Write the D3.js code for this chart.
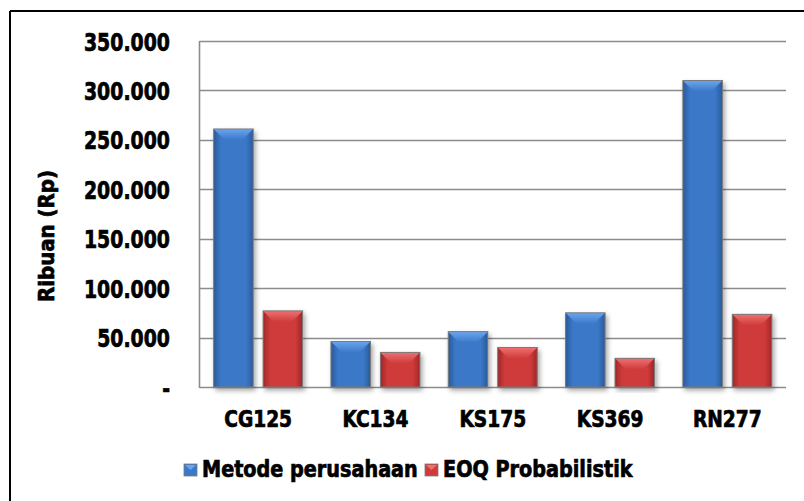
<!DOCTYPE html>
<html>
<head>
<meta charset="utf-8">
<script src="https://cdn.jsdelivr.net/npm/d3@7/dist/d3.min.js"></script>
<style>
  html, body { margin: 0; padding: 0; background: #fff; }
  svg { display: block; }
  text { font-family: "DejaVu Sans Condensed", "DejaVu Sans", sans-serif; font-stretch: condensed; font-weight: bold; fill: #000; stroke: #000; stroke-width: 0.7px; }
</style>
</head>
<body>
<svg id="chart" width="804" height="501"></svg>
<script>
// Inventory cost per product (thousand Rupiah)
const categories = ["CG125", "KC134", "KS175", "KS369", "RN277"];
const seriesNames = ["Metode perusahaan", "EOQ Probabilistik"];
const metodePerusahaan = [261000, 46000, 56000, 75000, 310000];
const eoqProbabilistik = [77000, 35000, 40000, 29000, 73500];
const yTicks = [0, 50000, 100000, 150000, 200000, 250000, 300000, 350000];
const yTickLabels = ["-", "50.000", "100.000", "150.000", "200.000", "250.000", "300.000", "350.000"];
const yTitle = "Ribuan (Rp)";

const seriesValues = [metodePerusahaan, eoqProbabilistik];
const palette = [
  { base: "#3b78c8", dark: "#29599a", light: "#6aa6ee", edge: "#24508c" },
  { base: "#cf3b3b", dark: "#a02626", light: "#f07070", edge: "#8e2020" }
];

const svg = d3.select("#chart");
const plot = { left: 199.5, right: 786, top: 41, bottom: 387 };

// outer frame (top and left rules)
svg.append("line").attr("x1", 10).attr("x2", 804).attr("y1", 11).attr("y2", 11)
  .attr("stroke", "#000").attr("stroke-width", 2);
svg.append("line").attr("x1", 10).attr("x2", 10).attr("y1", 11).attr("y2", 501)
  .attr("stroke", "#000").attr("stroke-width", 2);

const y = d3.scaleLinear().domain([0, 350000]).range([plot.bottom, plot.top]);
const x0 = d3.scaleBand().domain(categories).range([plot.left, plot.right]).padding(0);
const x1 = d3.scaleBand().domain(seriesNames).range([0, x0.bandwidth()])
  .paddingInner(0.2).paddingOuter(0.286);

const defs = svg.append("defs");
palette.forEach((p, i) => {
  const g = defs.append("linearGradient").attr("id", "body" + i)
    .attr("x1", "0%").attr("x2", "100%").attr("y1", "0%").attr("y2", "0%");
  g.append("stop").attr("offset", "0%").attr("stop-color", p.dark);
  g.append("stop").attr("offset", "18%").attr("stop-color", p.base);
  g.append("stop").attr("offset", "82%").attr("stop-color", p.base);
  g.append("stop").attr("offset", "100%").attr("stop-color", p.dark);
  const t = defs.append("linearGradient").attr("id", "top" + i)
    .attr("x1", "0%").attr("x2", "0%").attr("y1", "0%").attr("y2", "100%");
  t.append("stop").attr("offset", "0%").attr("stop-color", p.light);
  t.append("stop").attr("offset", "100%").attr("stop-color", p.base);
});
const shadow = defs.append("filter").attr("id", "shadow")
  .attr("x", "-30%").attr("y", "-10%").attr("width", "160%").attr("height", "130%");
shadow.append("feDropShadow").attr("dx", 2).attr("dy", 3).attr("stdDeviation", 2.5)
  .attr("flood-color", "#000").attr("flood-opacity", 0.35);

// gridlines
svg.append("g").selectAll("line").data(yTicks).join("line")
  .attr("x1", plot.left).attr("x2", plot.right)
  .attr("y1", d => Math.round(y(d)) + 0.5).attr("y2", d => Math.round(y(d)) + 0.5)
  .attr("stroke", "#8c8c8c").attr("stroke-width", 1.6);
svg.append("line").attr("x1", plot.left).attr("x2", plot.left)
  .attr("y1", plot.top).attr("y2", plot.bottom + 1)
  .attr("stroke", "#8c8c8c").attr("stroke-width", 1.6);

// y axis labels (horizontally compressed heavy type)
const ySx = 0.84;
const yAxis = d3.axisLeft(y).tickValues(yTicks)
  .tickFormat((d, i) => yTickLabels[i]).tickSize(0).tickPadding(29);
const yg = svg.append("g").attr("transform", `translate(${plot.left},0)`).call(yAxis);
yg.select(".domain").remove();
yg.selectAll("text").attr("font-size", 25).attr("font-family", null)
  .attr("x", -29.5 / ySx).attr("dy", "0.36em")
  .attr("transform", `scale(${ySx},1)`);

// y axis title
svg.append("text").attr("transform", "translate(46,236) rotate(-90)")
  .attr("text-anchor", "middle").attr("dominant-baseline", "central")
  .attr("font-size", 22).text(yTitle);

// bars
const bevel = 11;
const groups = svg.append("g").selectAll("g").data(categories).join("g")
  .attr("transform", d => `translate(${x0(d)},0)`);
groups.each(function (cat, ci) {
  const gg = d3.select(this);
  seriesNames.forEach((s, si) => {
    const v = seriesValues[si][ci];
    const bx = x1(s), bw = x1.bandwidth();
    const top = y(v), bot = y(0);
    const b = Math.min(bevel, (bot - top) / 2);
    const bar = gg.append("g").attr("filter", "url(#shadow)");
    bar.append("rect").attr("x", bx).attr("y", top).attr("width", bw).attr("height", bot - top)
      .attr("fill", `url(#body${si})`);
    bar.append("path")
      .attr("d", `M${bx},${top}L${bx + bw},${top}L${bx + bw - b},${top + b}L${bx + b},${top + b}Z`)
      .attr("fill", `url(#top${si})`);
    bar.append("rect").attr("x", bx).attr("y", top).attr("width", bw).attr("height", bot - top)
      .attr("fill", "none").attr("stroke", "#7a7a7a").attr("stroke-width", 1);
  });
});

// category labels
const xSx = 0.9;
const xAxis = d3.axisBottom(x0).tickSize(0).tickPadding(0);
const xg = svg.append("g").attr("transform", `translate(0,${plot.bottom})`).call(xAxis);
xg.select(".domain").remove();
xg.selectAll("text").attr("font-size", 23).attr("font-family", null)
  .attr("y", 40).attr("dy", 0).attr("transform", `scale(${xSx},1)`);

// legend
const legSx = 0.93;
const legendItems = [{ name: seriesNames[0], x: 184 }, { name: seriesNames[1], x: 425 }];
const lg = svg.append("g");
legendItems.forEach((it, i) => {
  const p = palette[i];
  const sw = 13, sh = 12, ly = 464;
  lg.append("rect").attr("x", it.x).attr("y", ly).attr("width", sw).attr("height", sh)
    .attr("fill", p.base).attr("stroke", "#7a7a7a").attr("stroke-width", 0.8);
  lg.append("path").attr("d", `M${it.x + 1},${ly + 1}L${it.x + sw - 1},${ly + 1}L${it.x + sw / 2},${ly + 6}Z`)
    .attr("fill", p.light);
  lg.append("text").attr("x", (it.x + sw + 5) / legSx).attr("y", 477)
    .attr("transform", `scale(${legSx},1)`)
    .attr("font-size", 23).text(it.name);
});
</script>
</body>
</html>
